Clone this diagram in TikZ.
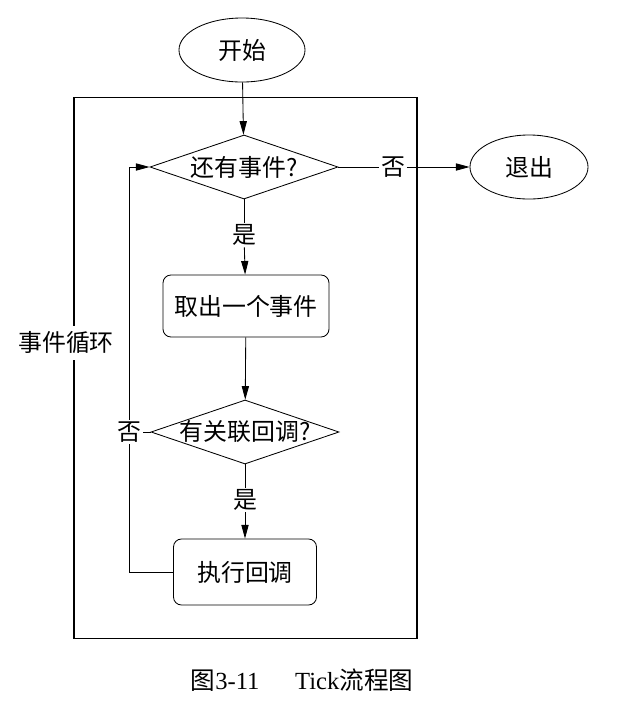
\documentclass[tikz,border=0pt]{standalone}
\usepackage{fontspec}
\setmainfont{Liberation Serif}
\newfontfamily\cjkfont{Noto Sans CJK SC}
\usetikzlibrary{arrows.meta,shapes.geometric}

\begin{document}
\begin{tikzpicture}[
  x=0.025cm, y=-0.025cm,
  line width=0.6pt,
  terminal/.style={
    draw,
    ellipse,
    inner sep=0pt,
    minimum height=1.6cm,
    font=\cjkfont\fontsize{17}{20}\selectfont
  },
  decision/.style={
    draw,
    diamond,
    aspect=2.9,
    inner sep=-2pt,
    minimum width=4.7cm,
    minimum height=1.6cm,
    font=\cjkfont\fontsize{17}{20}\selectfont
  },
  process/.style={
    draw,
    rounded corners=0.2cm,
    minimum height=1.55cm,
    font=\cjkfont\fontsize{17}{20}\selectfont
  },
  answer/.style={fill=white,inner sep=1pt,font=\cjkfont\fontsize{17}{20}\selectfont},
  arrow/.style={-{Triangle[length=3.4mm,width=1.8mm]}}
]
  \useasboundingbox (0,0) rectangle (618,726);
  \node[draw,line width=0.8pt,minimum width=8.575cm,minimum height=13.5cm] (eventloop) at (245.5,368) {};
  \node[answer,inner ysep=4pt] (looptitle) at (66,343) {事件循环};
  \node[terminal,minimum width=3.15cm] (start) at (242,50) {开始};
  \node[decision] (hasevent) at (244,167) {还有事件?};
  \node[answer] (no1) at (393,167) {否};
  \node[terminal,minimum width=2.95cm] (quit) at (529,167) {退出};
  \node[answer] (yes1) at (244,235) {是};
  \node[process,minimum width=4.15cm] (fetch) at (246,306) {取出一个事件};
  \node[decision] (hascb) at (245,432) {有关联回调?};
  \node[answer] (no2) at (129,432) {否};
  \node[answer] (yes2) at (245,500) {是};
  \node[process,minimum width=3.575cm,minimum height=1.65cm] (run) at (245,572) {执行回调};
  \node (caption) at (302,680) {\fontsize{17.5}{20}\selectfont{\cjkfont 图}3-11\hspace{1.45em}Tick{\cjkfont 流程图}};
  \draw[arrow] (start) -- (hasevent);
  \draw (hasevent) -- (no1);
  \draw[arrow] (no1) -- (quit);
  \draw (hasevent) -- (yes1);
  \draw[arrow] (yes1) -- (fetch);
  \draw[arrow] (fetch) -- (hascb);
  \draw (hascb) -- (no2);
  \draw (hascb) -- (yes2);
  \draw[arrow] (yes2) -- (run);
  \draw (run.west) -| (no2);
  \draw[arrow] (no2) |- (hasevent.west);
\end{tikzpicture}
\end{document}
